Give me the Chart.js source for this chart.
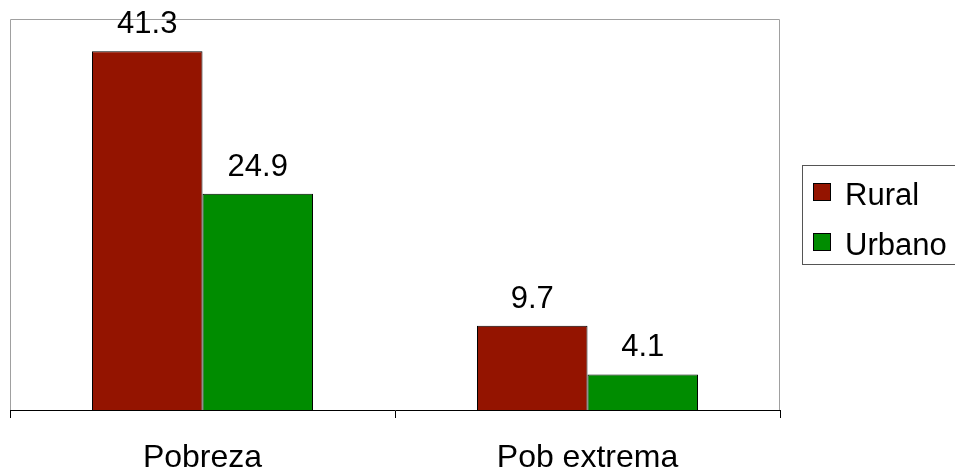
<!DOCTYPE html>
<html>
<head>
<meta charset="utf-8">
<script src="https://cdn.jsdelivr.net/npm/chart.js@4/dist/chart.umd.min.js"></script>
<style>
  html, body { margin: 0; padding: 0; background: #fff; }
  #wrap { width: 955px; height: 473px; }
</style>
</head>
<body>
<div id="wrap"><canvas id="chart" width="955" height="473"></canvas></div>
<script>
// datos del grafico
const categories = ['Pobreza', 'Pob extrema'];
const rural = [41.3, 9.7];
const urbano = [24.9, 4.1];
const seriesNames = ['Rural', 'Urbano'];
const seriesColors = ['#941400', '#008c00'];

const FONT = '"Liberation Sans", Arial, sans-serif';

// borde del area de trazado (gris arriba y lados, negro abajo)
const plotBorder = {
  id: 'plotBorder',
  beforeDatasetsDraw(chart) {
    const { ctx, chartArea: a } = chart;
    ctx.save();
    ctx.strokeStyle = '#a0a0a0';
    ctx.lineWidth = 1;
    ctx.beginPath();
    ctx.moveTo(a.left + 0.5, a.bottom);
    ctx.lineTo(a.left + 0.5, a.top + 0.5);
    ctx.lineTo(a.right - 0.5, a.top + 0.5);
    ctx.lineTo(a.right - 0.5, a.bottom);
    ctx.stroke();
    ctx.restore();
  }
};

// etiquetas de valor sobre cada barra
const valueLabels = {
  id: 'valueLabels',
  afterDatasetsDraw(chart) {
    const { ctx } = chart;
    ctx.save();
    ctx.font = '31px ' + FONT;
    ctx.fillStyle = '#000';
    ctx.textAlign = 'center';
    ctx.textBaseline = 'alphabetic';
    chart.data.datasets.forEach((ds, i) => {
      chart.getDatasetMeta(i).data.forEach((bar, j) => {
        ctx.fillText(ds.data[j].toFixed(1), bar.x, bar.y - 18);
      });
    });
    ctx.restore();
  }
};

// leyenda con recuadro a la derecha
const boxLegend = {
  id: 'boxLegend',
  afterDraw(chart) {
    const { ctx } = chart;
    ctx.save();
    ctx.strokeStyle = '#555';
    ctx.lineWidth = 1;
    ctx.strokeRect(802.5, 165.5, 170, 99);
    ctx.font = '31px ' + FONT;
    ctx.textBaseline = 'alphabetic';
    ctx.textAlign = 'left';
    seriesNames.forEach((name, i) => {
      const y = 183 + i * 50;
      ctx.fillStyle = seriesColors[i];
      ctx.fillRect(813, y, 18, 18);
      ctx.strokeStyle = '#000';
      ctx.strokeRect(813.5, y + 0.5, 17, 17);
      ctx.fillStyle = '#000';
      ctx.fillText(name, 845, y + 22);
    });
    ctx.restore();
  }
};

new Chart(document.getElementById('chart'), {
  type: 'bar',
  data: {
    labels: categories,
    datasets: [
      { label: seriesNames[0], data: rural, backgroundColor: seriesColors[0], borderColor: '#000', borderWidth: 1 },
      { label: seriesNames[1], data: urbano, backgroundColor: seriesColors[1], borderColor: '#000', borderWidth: 1 }
    ]
  },
  options: {
    responsive: false,
    animation: false,
    devicePixelRatio: 1,
    layout: { padding: { left: 10, top: 19, right: 175, bottom: 0 } },
    datasets: { bar: { categoryPercentage: 0.574, barPercentage: 1 } },
    plugins: { legend: { display: false }, tooltip: { enabled: false } },
    scales: {
      x: {
        grid: { display: true, drawOnChartArea: false, drawTicks: true, tickLength: 8, color: '#000', offset: true },
        border: { display: true, color: '#000', width: 1 },
        ticks: { color: '#000', font: { family: FONT, size: 32 }, padding: 21 },
        afterFit(scale) { scale.height = 63; }
      },
      y: { display: false, min: 0, max: 45 }
    }
  },
  plugins: [plotBorder, valueLabels, boxLegend]
});
</script>
</body>
</html>
